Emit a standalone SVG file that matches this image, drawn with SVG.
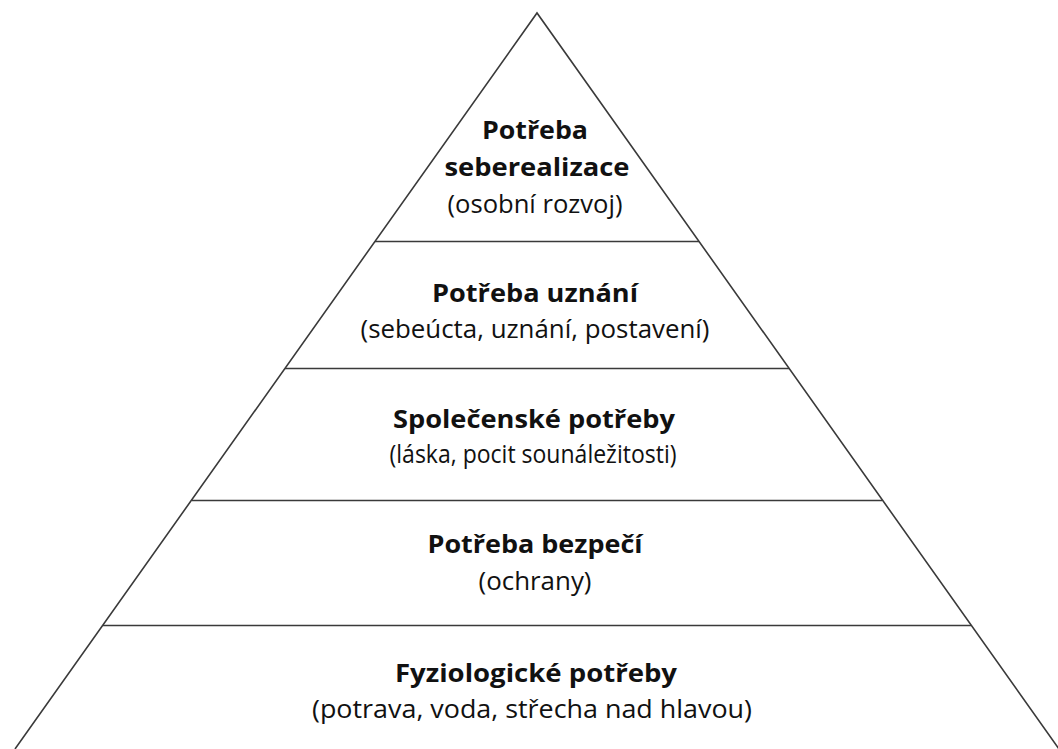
<svg xmlns="http://www.w3.org/2000/svg" width="1058" height="749" viewBox="0 0 1058 749">
  <style>
    .edge { stroke: #3a3a3a; stroke-width: 1.6; fill: none; }
    .t { font-family: "Open Sans", "Noto Sans", "Liberation Sans", sans-serif; font-size: 25px; fill: #111; text-anchor: middle; }
    .b { font-weight: bold; }
    .r { font-weight: normal; }
  </style>
  <rect width="1058" height="749" fill="#ffffff"/>
  <g id="connectors">
    <path class="edge" d="M15,749 L537,13 L1059,749"/>
    <line class="edge" x1="375" y1="241.5" x2="699" y2="241.5"/>
    <line class="edge" x1="285" y1="368.5" x2="789" y2="368.5"/>
    <line class="edge" x1="192" y1="500.5" x2="882" y2="500.5"/>
    <line class="edge" x1="103" y1="625.5" x2="971" y2="625.5"/>
  </g>
  <g id="level5">
    <text class="t b" x="535" y="139" textLength="106" lengthAdjust="spacingAndGlyphs">Potřeba</text>
    <text class="t b" x="537" y="176" textLength="185" lengthAdjust="spacingAndGlyphs">seberealizace</text>
    <text class="t r" x="535" y="213" textLength="175" lengthAdjust="spacingAndGlyphs">(osobní rozvoj)</text>
  </g>
  <g id="level4">
    <text class="t b" x="535" y="302" textLength="206" lengthAdjust="spacingAndGlyphs">Potřeba uznání</text>
    <text class="t r" x="535" y="338" textLength="349" lengthAdjust="spacingAndGlyphs">(sebeúcta, uznání, postavení)</text>
  </g>
  <g id="level3">
    <text class="t b" x="534" y="428" textLength="282" lengthAdjust="spacingAndGlyphs">Společenské potřeby</text>
    <text class="t r" x="533" y="463" textLength="287" lengthAdjust="spacingAndGlyphs">(láska, pocit sounáležitosti)</text>
  </g>
  <g id="level2">
    <text class="t b" x="535" y="553" textLength="215" lengthAdjust="spacingAndGlyphs">Potřeba bezpečí</text>
    <text class="t r" x="535" y="590" textLength="113" lengthAdjust="spacingAndGlyphs">(ochrany)</text>
  </g>
  <g id="level1">
    <text class="t b" x="536" y="682" textLength="282" lengthAdjust="spacingAndGlyphs">Fyziologické potřeby</text>
    <text class="t r" x="532" y="718" textLength="440" lengthAdjust="spacingAndGlyphs">(potrava, voda, střecha nad hlavou)</text>
  </g>
</svg>
